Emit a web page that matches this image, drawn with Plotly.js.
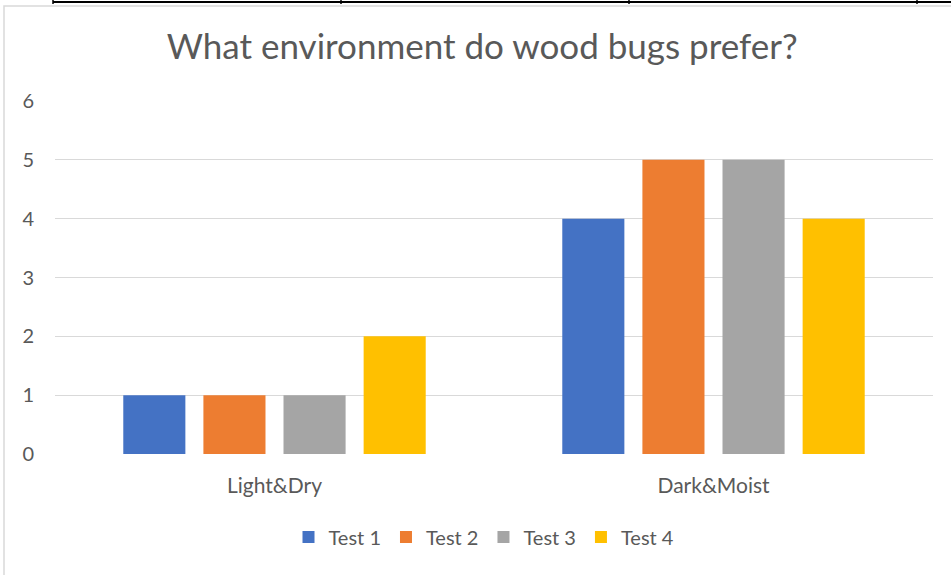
<!DOCTYPE html>
<html>
<head>
<meta charset="utf-8">
<script src="https://cdn.plot.ly/plotly-3.0.1.min.js"></script>
<style>html,body{margin:0;padding:0;background:#fff;}#chart{width:951px;height:575px;}</style>
</head>
<body>
<div id="chart"></div>
<script>
const categories = ["Light&Dry", "Dark&Moist"];
const seriesNames = ["Test 1", "Test 2", "Test 3", "Test 4"];
const test1 = [1, 4];
const test2 = [1, 5];
const test3 = [1, 5];
const test4 = [2, 4];
const yTicks = [0, 1, 2, 3, 4, 5, 6];

const colors = ["#4472C4", "#ED7D31", "#A5A5A5", "#FFC000"];
const values = [test1, test2, test3, test4];

const traces = seriesNames.map((n, i) => ({
  type: "bar", name: n, x: categories, y: values[i],
  marker: {color: colors[i]}, hoverinfo: "x+y+name"
}));

// pixel -> paper helpers for decorative frame
const L = 55, R = 933, T = 101, B = 454;
const px = v => (v - L) / (R - L);
const py = v => (B - v) / (B - T);

const shapes = [
  {type: "line", xref: "paper", yref: "paper", x0: px(53), x1: px(951), y0: py(2), y1: py(2), line: {color: "#000", width: 2}},
  {type: "rect", xref: "paper", yref: "paper", x0: px(4), x1: px(960), y0: py(6), y1: py(600), line: {color: "#d9d9d9", width: 1.5}, fillcolor: "rgba(0,0,0,0)"}
];
[53, 341, 629, 917].forEach(x => shapes.push({type: "line", xref: "paper", yref: "paper", x0: px(x), x1: px(x), y0: py(0), y1: py(4), line: {color: "#000", width: 1.5}}));

const layout = {
  width: 951, height: 575,
  margin: {l: L, r: 951 - R, t: T, b: 575 - B},
  paper_bgcolor: "#fff", plot_bgcolor: "#fff",
  font: {family: "Lato, Liberation Sans, Arial, sans-serif", color: "#595959", size: 19},
  title: {text: "What environment do wood bugs prefer?", font: {size: 35, color: "#595959"}, x: 0.507, xanchor: "center", y: 1 - 47 / 575, yanchor: "middle"},
  barmode: "group", bargap: 0.27, bargroupgap: 0.225,
  xaxis: {type: "category", showgrid: false, zeroline: false, showline: false, ticks: "", ticklabelstandoff: 17, tickfont: {size: 21, color: "#595959"}},
  yaxis: {range: [0, 6], tickvals: yTicks, showgrid: true, gridcolor: "#d9d9d9", gridwidth: 1, zeroline: false, showline: false, ticks: "", ticklabelstandoff: 20, tickfont: {size: 20, color: "#595959"}},
  showlegend: true,
  legend: {orientation: "h", x: px(484), xanchor: "center", y: py(537), yanchor: "middle", font: {size: 20, color: "#595959"}, itemwidth: 30, traceorder: "normal"},
  shapes: shapes
};

Plotly.newPlot("chart", traces, layout, {displayModeBar: false, staticPlot: true});
</script>
</body>
</html>
